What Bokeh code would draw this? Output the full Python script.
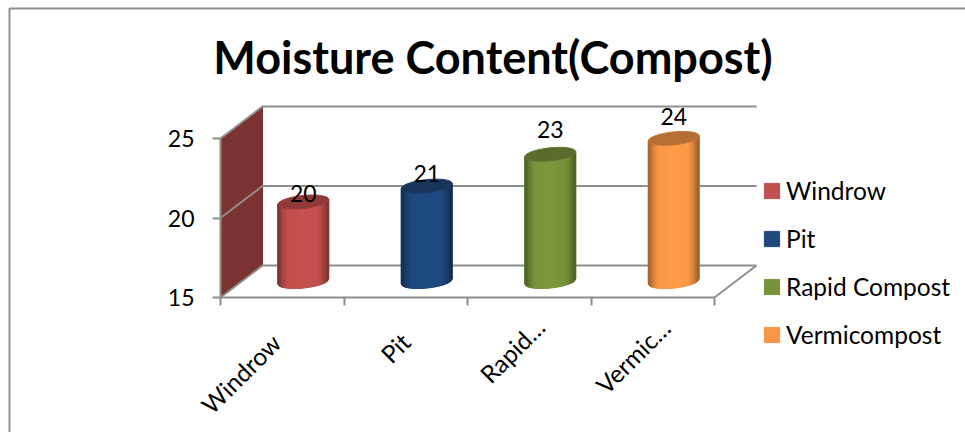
import math
from bokeh.plotting import figure
from bokeh.embed import file_html
from bokeh.resources import INLINE
from bokeh.core.properties import value
from bokeh.models import (Range1d, FixedTicker, LinearAxis, Legend, LegendItem,
                          Label, ColumnDataSource)

title_text = "Moisture Content(Compost)"
categories = ["Windrow", "Pit", "Rapid Compost", "Vermicompost"]
axis_labels = ["Windrow", "Pit", "Rapid\u2026", "Vermic\u2026"]
values = [20, 21, 23, 24]
y_ticks = [15, 20, 25]
colors = ["#c0504d", "#1f497d", "#77933c", "#f79646"]

# layout of the fake 3D projection (page pixels per unit)
W, H = 965, 432
X0, Y0 = 220, 297
PX_X, PX_Y = 123.5, 15.9
DX, DY = 42 / PX_X, 32 / PX_Y
HALF_W = 25.5 / PX_X
TILT = 2.5 / PX_Y
SEMI = 6.5 / PX_Y
FONT = "Lato"
GRAY = "#8e8e8e"
label_gap = [0, 4, 16, 13]          # data label height above cylinder top, px
tick_shift = [(-6, -41), (0, -40), (11, -25), (13, -26)]   # category label anchors, px


def shade(c, k):
    r, g, b = int(c[1:3], 16), int(c[3:5], 16), int(c[5:7], 16)
    return "#%02x%02x%02x" % (min(255, int(r * k)), min(255, int(g * k)), min(255, int(b * k)))


def page_x(px):
    return (px - X0) / PX_X


def page_y(py):
    return 15 + (Y0 - py) / PX_Y


p = figure(width=W, height=H, output_backend="svg", toolbar_location=None,
           x_range=Range1d(page_x(0), page_x(W)),
           y_range=Range1d(page_y(H), page_y(0)),
           x_axis_type=None, y_axis_type=None,
           min_border=0)
p.outline_line_color = None
p.grid.visible = False
p.background_fill_color = "white"

# picture frame: only the left and top edges are inside the image
p.line([page_x(9), page_x(9), page_x(W)], [page_y(H), page_y(8), page_y(8)], line_color=GRAY, line_width=2)

# side wall
top, bottom = y_ticks[-1], y_ticks[0]
p.patch([0, DX, DX, 0], [bottom, bottom + DY, top + DY, top], fill_color="#7a3331", line_color="#7a3331")

# grid: wall diagonals and back lines
for v in y_ticks:
    p.line([0, DX, 4 + DX], [v, v + DY, v + DY], line_color=GRAY, line_width=2)
p.line([4, 4 + DX], [bottom, bottom + DY], line_color=GRAY, line_width=2)

# real axes, fixed on the front plane
yax = LinearAxis(ticker=FixedTicker(ticks=y_ticks), bounds=(15, 25), fixed_location=0)
xax = LinearAxis(ticker=FixedTicker(ticks=[0, 1, 2, 3, 4]), bounds=(0, 4), fixed_location=15,
                 major_label_overrides={i: "" for i in range(5)})
for ax in (xax, yax):
    ax.axis_line_color = GRAY
    ax.axis_line_width = 2
    ax.major_tick_line_color = GRAY
    ax.major_tick_line_width = 2
    ax.major_tick_out = 8
    ax.major_tick_in = 0
    ax.minor_tick_line_color = None
yax.major_label_text_font = FONT
yax.major_label_text_font_size = "23px"
yax.major_label_text_color = "black"
yax.major_label_standoff = 18
p.add_layout(yax, "left")
p.add_layout(xax, "below")

# cylinders
N = 30
legend_items = []
for i, (cat, val, col) in enumerate(zip(categories, values, colors)):
    cx = i + 0.5 + DX / 2
    base = bottom + DY / 2
    tip = val + DY / 2
    ts = [-1 + 2 * k / N for k in range(N + 1)]

    def edge(c, t, sign):
        return c + TILT * t + sign * SEMI * math.sqrt(max(0, 1 - t * t))

    xs_body = [cx + HALF_W * t for t in ts] + [cx + HALF_W * t for t in reversed(ts)]
    ys_body = [edge(base, t, -1) for t in ts] + [tip + TILT * t for t in reversed(ts)]
    body = p.patch(xs_body, ys_body, fill_color=col, line_color=col)
    xs, ys, cs = [], [], []
    for a, b in zip(ts[:-1], ts[1:]):
        m = abs((a + b) / 2)
        k = 1.0 + 0.04 * (1 - m) if m < 0.55 else 1.02 - 0.42 * ((m - 0.55) / 0.45) ** 1.4
        xs.append([cx + HALF_W * a, cx + HALF_W * b, cx + HALF_W * b, cx + HALF_W * a])
        ys.append([edge(base, a, -1), edge(base, b, -1), tip + TILT * b, tip + TILT * a])
        cs.append(shade(col, k))
    p.patches(xs, ys, fill_color=cs, line_color=cs, line_width=0.6)
    ang = [2 * math.pi * k / 60 for k in range(60)]
    p.patch([cx + HALF_W * math.cos(a) for a in ang],
            [tip + TILT * math.cos(a) + SEMI * math.sin(a) for a in ang],
            fill_color=shade(col, 0.74), line_color=shade(col, 0.8))
    legend_items.append(LegendItem(label=cat, renderers=[body]))

# data labels
src = ColumnDataSource(dict(x=[i + 0.5 + DX / 2 for i in range(4)],
                            y=[v + DY / 2 for v in values],
                            t=[str(v) for v in values],
                            o=[-g for g in label_gap]))
p.text("x", "y", text="t", source=src, text_align="center", text_baseline="bottom",
       y_offset="o", text_font=value(FONT), text_font_size="23px", text_color="black")

# category labels
for i, (txt, (ox, oy)) in enumerate(zip(axis_labels, tick_shift)):
    p.add_layout(Label(x=i + 0.5, y=15, x_offset=ox, y_offset=oy, text=txt, angle=45, angle_units="deg",
                       text_align="right", text_baseline="alphabetic", text_font=FONT,
                       text_font_size="24.5px", text_color="black"))

# title
p.add_layout(Label(x=page_x(492.5), y=page_y(56), text=title_text, text_align="center",
                   text_baseline="alphabetic", text_font=FONT, text_font_size="45px",
                   text_font_style="bold", text_color="black"))

# legend
legend = Legend(items=legend_items, location=(762, 83), orientation="vertical",
                glyph_width=19, glyph_height=19, label_standoff=5, spacing=19,
                padding=0, margin=0, border_line_color=None, background_fill_alpha=0,
                label_text_font=FONT, label_text_font_size="24.5px", label_text_color="black",
                label_height=19)
p.add_layout(legend, "center")

open("out.html", "w").write(file_html(p, INLINE))
